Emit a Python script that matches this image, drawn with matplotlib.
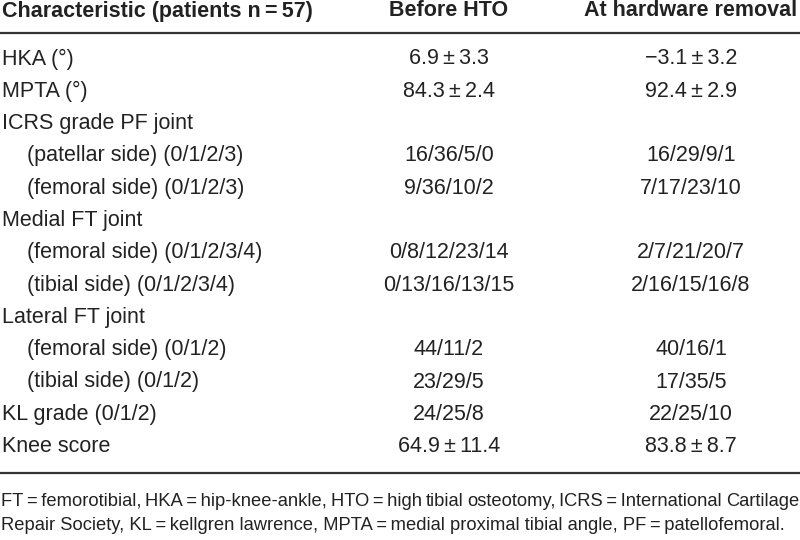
import matplotlib
matplotlib.use("Agg")
import matplotlib.pyplot as plt
from matplotlib import font_manager as fm

names = {f.name for f in fm.fontManager.ttflist}
base = "Liberation Sans Narrow" if "Liberation Sans Narrow" in names else "Liberation Sans"
FAM = [base, "DejaVu Sans"]

header = ["Characteristic (patients n\u2009=\u200957)", "Before HTO", "At hardware removal"]
characteristics = ["HKA (\u00b0)", "MPTA (\u00b0)", "ICRS grade PF joint",
                   "(patellar side) (0/1/2/3)", "(femoral side) (0/1/2/3)",
                   "Medial FT joint", "(femoral side) (0/1/2/3/4)", "(tibial side) (0/1/2/3/4)",
                   "Lateral FT joint", "(femoral side) (0/1/2)", "(tibial side) (0/1/2)",
                   "KL grade (0/1/2)", "Knee score"]
indent = [0, 0, 0, 1, 1, 0, 1, 1, 0, 1, 1, 0, 0]
before_hto = ["6.9\u2009\u00b1\u20093.3", "84.3\u2009\u00b1\u20092.4", "", "16/36/5/0", "9/36/10/2", "",
              "0/8/12/23/14", "0/13/16/13/15", "", "44/11/2", "23/29/5", "24/25/8",
              "64.9\u2009\u00b1\u200911.4"]
at_removal = ["\u22123.1\u2009\u00b1\u20093.2", "92.4\u2009\u00b1\u20092.9", "", "16/29/9/1", "7/17/23/10", "",
              "2/7/21/20/7", "2/16/15/16/8", "", "40/16/1", "17/35/5", "22/25/10",
              "83.8\u2009\u00b1\u20098.7"]
footnote1 = ("FT\u2009=\u2009femorotibial, HKA\u2009=\u2009hip-knee-ankle, HTO\u2009=\u2009high tibial osteotomy, "
             "ICRS\u2009=\u2009International Cartilage")
footnote2 = ("Repair Society, KL\u2009=\u2009kellgren lawrence, MPTA\u2009=\u2009medial proximal tibial angle, "
             "PF\u2009=\u2009patellofemoral.")

W, H = 800, 540
fig = plt.figure(figsize=(W / 100, H / 100), dpi=100)
ax = fig.add_axes([0, 0, 1, 1])
ax.set_xlim(0, W)
ax.set_ylim(H, 0)
ax.axis("off")

col_x = [449, 691]
FS = 15.5
COLOR = "#222222"

# header
ax.text(2, 11, header[0], fontsize=FS, fontweight="bold", family=FAM, va="center", ha="left", color=COLOR)
ax.text(col_x[0], 11, header[1], fontsize=FS, fontweight="bold", family=FAM, va="center", ha="center", color=COLOR)
ax.text(col_x[1], 11, header[2], fontsize=FS, fontweight="bold", family=FAM, va="center", ha="center", color=COLOR)

ax.plot([0, W], [32.5, 32.5], color="#333333", lw=1.6, solid_capstyle="butt")

y0, dy = 59, 32.3
for i, (c, ind, b, a) in enumerate(zip(characteristics, indent, before_hto, at_removal)):
    y = y0 + i * dy
    ax.text(2 + ind * 25, y, c, fontsize=FS, family=FAM, va="center", ha="left", color=COLOR)
    ax.text(col_x[0], y, b, fontsize=FS, family=FAM, va="center", ha="center", color=COLOR)
    ax.text(col_x[1], y, a, fontsize=FS, family=FAM, va="center", ha="center", color=COLOR)

ax.plot([0, W], [473, 473], color="#333333", lw=1.6, solid_capstyle="butt")

# footnote: line 1 justified across full width
FFS = 13.2
fig.canvas.draw()
renderer = fig.canvas.get_renderer()
words = footnote1.split(" ")
tw = []
arts = []
for w in words:
    t = ax.text(0, 501, w, fontsize=FFS, family=FAM, va="center", ha="left", color=COLOR)
    arts.append(t)
    bb = t.get_window_extent(renderer=renderer)
    tw.append(bb.width)
left, right = 1, 799
gap = (right - left - sum(tw)) / (len(words) - 1)
x = left
for t, w in zip(arts, tw):
    t.set_x(x)
    x += w + gap

ax.text(1, 526, footnote2, fontsize=FFS, family=FAM, va="center", ha="left", color=COLOR)

fig.savefig("out.png", dpi=100)
